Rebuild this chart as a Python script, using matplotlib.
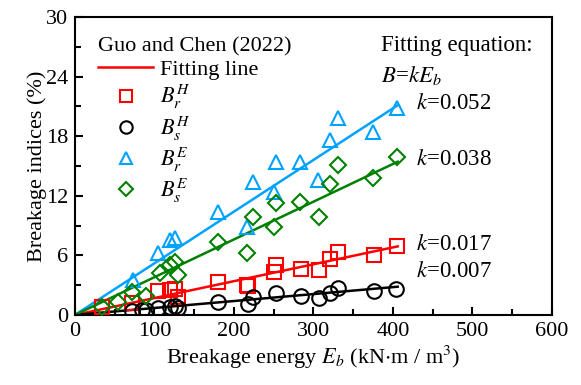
import matplotlib
matplotlib.use("Agg")
import matplotlib.pyplot as plt
import numpy as np
from matplotlib.lines import Line2D
from matplotlib.ticker import MultipleLocator

plt.rcParams['font.family'] = ['Liberation Serif', 'DejaVu Serif']
plt.rcParams['mathtext.fontset'] = 'stix'

# Data
x_rH = [34, 72, 104, 119, 126, 130, 180, 216, 218, 250, 253, 284, 307, 321, 331, 376, 405]
y_rH = [0.8, 1.2, 2.4, 2.5, 2.6, 1.8, 3.3, 3.0, 2.9, 4.3, 5.0, 4.6, 4.5, 5.6, 6.3, 6.0, 6.95]

x_sH = [72, 84, 90, 104, 119, 126, 130, 180, 218, 224, 253, 284, 307, 321, 331, 376, 404]
y_sH = [0.4, 0.5, 0.5, 0.7, 0.8, 0.9, 0.7, 1.3, 1.1, 1.8, 2.2, 1.9, 1.7, 2.2, 2.7, 2.4, 2.6]

x_rE = [73, 104, 119, 126, 180, 216, 224, 250, 253, 283, 306, 321, 331, 375, 405]
y_rE = [3.5, 6.2, 7.5, 7.7, 10.4, 8.9, 13.4, 12.4, 15.4, 15.4, 13.6, 17.6, 19.8, 18.4, 20.8]

x_sE = [34, 54, 72, 89, 107, 119, 126, 130, 180, 216, 224, 250, 253, 283, 307, 321, 331, 375, 405]
y_sE = [0.8, 1.3, 2.3, 1.9, 4.2, 5.0, 5.3, 4.0, 7.3, 6.2, 9.9, 8.9, 11.3, 11.4, 9.9, 13.2, 15.1, 13.8, 15.9]

k_vals = [0.017, 0.007, 0.052, 0.038]
k_labels = ["0.017", "0.007", "0.052", "0.038"]
fit_xmax = 406

c_red = '#ff0000'
c_blk = '#000000'
c_blue = '#00a2ff'
c_green = '#008000'

FS = 16
FS2 = 16.5

fig = plt.figure(figsize=(5.81, 3.85), dpi=100)
ax = fig.add_axes([0.129, 0.182, 0.821, 0.774])

series = [
    (x_rH, y_rH, c_red, 's', r'$B_r^H$', k_vals[0]),
    (x_sH, y_sH, c_blk, 'o', r'$B_s^H$', k_vals[1]),
    (x_rE, y_rE, c_blue, '^', r'$B_r^E$', k_vals[2]),
    (x_sE, y_sE, c_green, 'D', r'$B_s^E$', k_vals[3]),
]
msizes = {'s': 9.5, 'o': 10.5, '^': 10.5, 'D': 8.5}
xf = np.array([0, fit_xmax])
for xs, ys, c, m, lab, k in series:
    ax.plot(xf, k * xf, color=c, lw=1.8, zorder=2)
for xs, ys, c, m, lab, k in series:
    ax.plot(xs, ys, linestyle='none', marker=m, markersize=msizes[m],
            markerfacecolor='none', markeredgecolor=c, markeredgewidth=1.5, zorder=3)

ax.set_xlim(0, 600)
ax.set_ylim(0, 30)
ax.xaxis.set_major_locator(MultipleLocator(100))
ax.xaxis.set_minor_locator(MultipleLocator(50))
ax.yaxis.set_major_locator(MultipleLocator(6))
ax.yaxis.set_minor_locator(MultipleLocator(3))
ax.tick_params(which='both', direction='in', top=False, right=False, labelsize=FS, width=1.5)
ax.tick_params(which='major', length=6, pad=5)
ax.tick_params(which='minor', length=4)
for s in ax.spines.values():
    s.set_linewidth(1.5)

ax.set_xlabel(r'Breakage energy $E_b$ (kN$\cdot$m / m$^3$)', fontsize=FS, labelpad=2)
ax.set_ylabel('Breakage indices (%)', fontsize=FS, labelpad=-1)

handles = [Line2D([], [], color=c_red, lw=1.8)]
labels = ['Fitting line']
for xs, ys, c, m, lab, k in series:
    handles.append(Line2D([], [], linestyle='none', marker=m, markersize=msizes[m] * 0.85,
                          markerfacecolor='none', markeredgecolor=c, markeredgewidth=1.5))
    labels.append(lab)
leg = ax.legend(handles, labels, title='Guo and Chen (2022)', loc='upper left',
                frameon=False, fontsize=FS, title_fontsize=FS, handlelength=2.5,
                handletextpad=0.3, labelspacing=0.12, borderaxespad=0.2,
                bbox_to_anchor=(0.02, 0.975))
leg._legend_box.align = 'left'

ax.text(0.642, 0.905, 'Fitting equation:', transform=ax.transAxes, fontsize=FS2, va='center')
ax.text(0.642, 0.805, r'$B$=$kE_b$', transform=ax.transAxes, fontsize=FS2, va='center')
ypos = [0.235, 0.147, 0.708, 0.52]
for yp, kl in zip(ypos, k_labels):
    ax.text(0.715, yp, r'$k$=' + kl, transform=ax.transAxes, fontsize=FS2, va='center')

fig.savefig('out.png', dpi=100)
